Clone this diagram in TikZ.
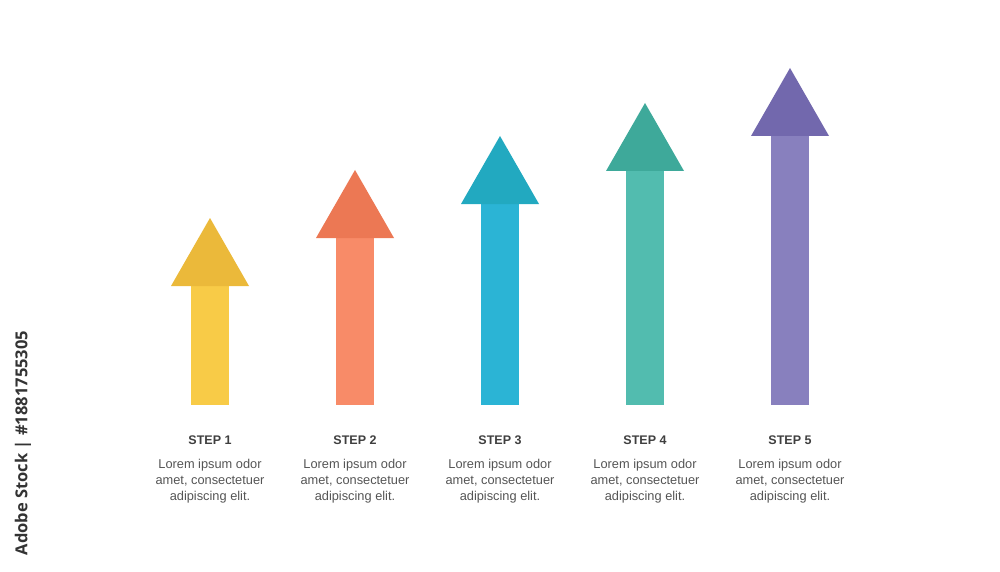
\documentclass[tikz,border=0pt]{standalone}
\usepackage{fontspec}
\setmainfont{Liberation Sans}
\newfontfamily\markfont{Open Sans}
\definecolor{shaftA}{HTML}{F8CB47}
\definecolor{headA}{HTML}{EBB93A}
\definecolor{shaftB}{HTML}{F88B68}
\definecolor{headB}{HTML}{EC7854}
\definecolor{shaftC}{HTML}{2BB4D5}
\definecolor{headC}{HTML}{22A9C0}
\definecolor{shaftD}{HTML}{52BCAF}
\definecolor{headD}{HTML}{3EA99A}
\definecolor{shaftE}{HTML}{8880BE}
\definecolor{headE}{HTML}{7268AD}
\definecolor{titlegray}{HTML}{3F3F3F}
\definecolor{bodygray}{HTML}{555555}

\tikzset{
  steptitle/.style={font=\fontsize{12.5}{14}\selectfont\bfseries, text=titlegray},
  stepbody/.style={font=\fontsize{12.8}{16}\selectfont, text=bodygray, align=center}
}

\begin{document}
\begin{tikzpicture}[x=1pt,y=-1pt]
  \useasboundingbox[fill=white] (0,0) rectangle (1000,572);
  % arrows: centre, tip, colours
  \foreach \n/\x/\t/\sc/\hc in {1/210/218/shaftA/headA,2/355/170/shaftB/headB,
      3/500/136/shaftC/headC,4/645/103/shaftD/headD,5/790/68/shaftE/headE}{
    \fill[\sc] (\x-19,\t+68) rectangle (\x+19,405);
    \fill[\hc] (\x,\t) -- (\x+39,\t+68) -- (\x-39,\t+68) -- cycle;
    \node[steptitle] (title\n) at (\x,440) {STEP \n};
    \node[stepbody] (body\n) at (\x,481) {Lorem ipsum odor\\amet, consectetuer\\adipiscing elit.};
  }
  \node[rotate=90, font=\markfont\fontsize{16.5}{18}\selectfont\bfseries, text=black!80] (mark) at (23,443) {Adobe Stock | \#1881755305};
\end{tikzpicture}
\end{document}
